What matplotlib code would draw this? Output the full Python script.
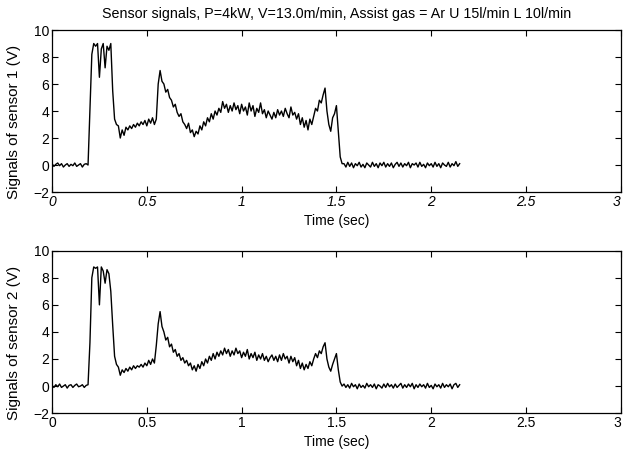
import numpy as np
import matplotlib
matplotlib.use("Agg")
import matplotlib.pyplot as plt

plt.rcParams['font.family'] = ['Liberation Sans', 'DejaVu Sans']

# sample clock, 10 ms
time = np.round(np.arange(216) * 0.01, 2)

base1_start = [0.1, -0.1, 0.05, 0.15, -0.05, 0.1, -0.15, 0.0, 0.1, -0.1,
               0.05, -0.05, 0.15, -0.1, 0.0, 0.1, -0.15, 0.05, 0.1, 0.0]
cut1 = [4.0, 8.2, 9.0, 8.8, 9.0, 6.5, 8.6, 9.0, 7.2, 8.8,
        8.5, 9.0, 5.5, 3.4, 3.0, 2.9, 2.0, 2.6, 2.2, 2.8,
        2.6, 2.9, 2.7, 3.0, 2.8, 3.1, 2.9, 3.2, 3.0, 3.3,
        2.9, 3.4, 3.1, 3.5, 3.0, 3.4, 6.0, 7.0, 6.2, 6.0,
        5.4, 5.6, 5.0, 4.8, 4.3, 4.5, 3.9, 3.6, 3.8, 3.2,
        3.0, 2.7, 3.1, 2.4, 2.6, 2.1, 2.5, 2.3, 2.9, 2.6,
        3.2, 2.9, 3.5, 3.2, 3.8, 3.4, 4.0, 3.7, 4.2, 3.9,
        4.7, 4.2, 4.5, 3.9, 4.4, 4.0, 4.6, 4.1, 4.4, 3.8,
        4.5, 4.0, 4.3, 3.7, 4.6, 4.0, 4.4, 3.6, 4.2, 3.9,
        4.6, 3.8, 4.1, 3.5, 4.0, 3.7, 3.4, 3.9, 3.5, 4.1,
        3.7, 4.0, 3.6, 4.2, 3.8, 3.5, 4.3, 3.7, 3.9, 3.4,
        3.8, 3.0, 3.5, 2.8, 3.3, 2.6, 3.4, 3.0, 3.6, 4.2,
        4.0, 4.8, 4.6, 5.2, 5.7, 4.0, 3.0, 2.5, 3.5, 3.8,
        4.4, 2.5, 0.6, 0.1]
base1_end = [0.1, -0.15, 0.2, -0.1, 0.15, -0.2, 0.1, -0.05, 0.2, -0.15,
             0.05, -0.2, 0.15, 0.0, -0.15, 0.2, -0.1, 0.1, -0.2, 0.15,
             -0.05, 0.2, -0.15, 0.1, -0.1, 0.15, -0.2, 0.05, 0.2, -0.1,
             0.15, -0.15, 0.1, -0.05, 0.2, -0.2, 0.1, 0.0, 0.15, -0.15,
             0.2, -0.1, 0.05, -0.2, 0.15, -0.05, 0.1, -0.15, 0.2, -0.1,
             0.1, -0.2, 0.15, 0.0, -0.1, 0.2, -0.15, 0.1, -0.05, 0.25,
             -0.1, 0.1]
sensor1 = np.array(base1_start + cut1 + base1_end)

base2_start = [0.05, -0.1, 0.1, -0.05, 0.15, -0.1, 0.0, 0.1, -0.15, 0.05,
               0.1, -0.1, 0.05, 0.15, -0.05, 0.0, 0.1, -0.1, 0.05, 0.1]
cut2 = [3.2, 8.0, 8.8, 8.7, 8.8, 6.0, 8.8, 8.5, 7.6, 8.6,
        8.3, 7.0, 4.5, 2.2, 1.6, 1.4, 0.8, 1.2, 1.0, 1.3,
        1.1, 1.4, 1.2, 1.5, 1.3, 1.5, 1.4, 1.6, 1.4, 1.7,
        1.5, 1.9, 1.6, 2.0, 1.7, 3.0, 4.6, 5.5, 4.4, 4.0,
        3.4, 3.6, 2.9, 3.1, 2.5, 2.7, 2.2, 2.4, 1.9, 2.1,
        1.7, 1.9, 1.5, 1.7, 1.2, 1.5, 1.1, 1.6, 1.3, 1.8,
        1.5, 2.0, 1.7, 2.2, 1.9, 2.4, 2.0, 2.5, 2.2, 2.6,
        2.3, 2.8, 2.4, 2.7, 2.2, 2.6, 2.3, 2.8, 2.4, 2.6,
        2.1, 2.5, 2.2, 2.7, 2.0, 2.4, 2.1, 2.5, 1.9, 2.3,
        2.0, 2.4, 1.9, 2.2, 1.8, 2.1, 2.3, 1.9, 2.2, 1.8,
        2.3, 1.9, 2.4, 2.0, 2.2, 1.7, 2.2, 1.8, 2.1, 1.5,
        1.9, 1.3, 1.7, 1.2, 1.6, 1.3, 1.8, 1.5, 2.0, 2.4,
        2.1, 2.6, 2.4, 2.9, 3.2, 2.0, 1.4, 1.1, 1.6, 2.0,
        2.4, 1.2, 0.3, 0.0]
base2_end = [0.15, -0.1, 0.1, -0.15, 0.2, -0.05, 0.1, -0.2, 0.15, -0.1,
             0.05, -0.15, 0.2, -0.05, 0.1, -0.1, 0.15, -0.2, 0.1, 0.0,
             -0.15, 0.15, -0.1, 0.2, -0.05, 0.1, -0.15, 0.15, -0.1, 0.05,
             0.2, -0.15, 0.1, -0.1, 0.15, -0.05, 0.2, -0.2, 0.1, -0.1,
             0.15, -0.05, 0.1, -0.15, 0.2, -0.1, 0.05, -0.2, 0.15, -0.05,
             0.1, -0.15, 0.2, -0.1, 0.1, -0.05, 0.15, -0.2, 0.1, 0.2,
             -0.1, 0.1]
sensor2 = np.array(base2_start + cut2 + base2_end)

xticks = [0, 0.5, 1, 1.5, 2, 2.5, 3]
xticklabels = ["0", "0.5", "1", "1.5", "2", "2.5", "3"]
yticks = [-2, 0, 2, 4, 6, 8, 10]

fig = plt.figure(figsize=(6.23, 4.55), dpi=100)
ax1 = fig.add_axes([0.0835, 0.578, 0.913, 0.356])
ax2 = fig.add_axes([0.0835, 0.092, 0.913, 0.357])

for ax, sig, lab in [(ax1, sensor1, "Signals of sensor 1 (V)"),
                     (ax2, sensor2, "Signals of sensor 2 (V)")]:
    ax.plot(time, sig, color="black", linewidth=1.0)
    ax.set_xlim(0, 3)
    ax.set_ylim(-2, 10)
    ax.set_xticks(xticks)
    ax.set_xticklabels(xticklabels)
    ax.set_yticks(yticks)
    ax.tick_params(direction="in", top=True, right=True, labelsize=10, length=4, pad=2)
    ax.set_xlabel("Time (sec)", fontsize=10, labelpad=4)
    ax.set_ylabel(lab, fontsize=11)
    ax.yaxis.set_label_coords(-0.054, 0.43)
    for s in ax.spines.values():
        s.set_linewidth(0.9)
    # last label sits at the figure edge, keep it inside
    ax.get_xticklabels()[-1].set_horizontalalignment("right")

# top plot tick labels came out slanted in the scan
for t in ax1.get_xticklabels():
    t.set_style("italic")

ax1.set_title("Sensor signals, P=4kW, V=13.0m/min, Assist gas = Ar U 15l/min L 10l/min",
              fontsize=10.3, pad=9)

fig.savefig("out.png", dpi=100)
